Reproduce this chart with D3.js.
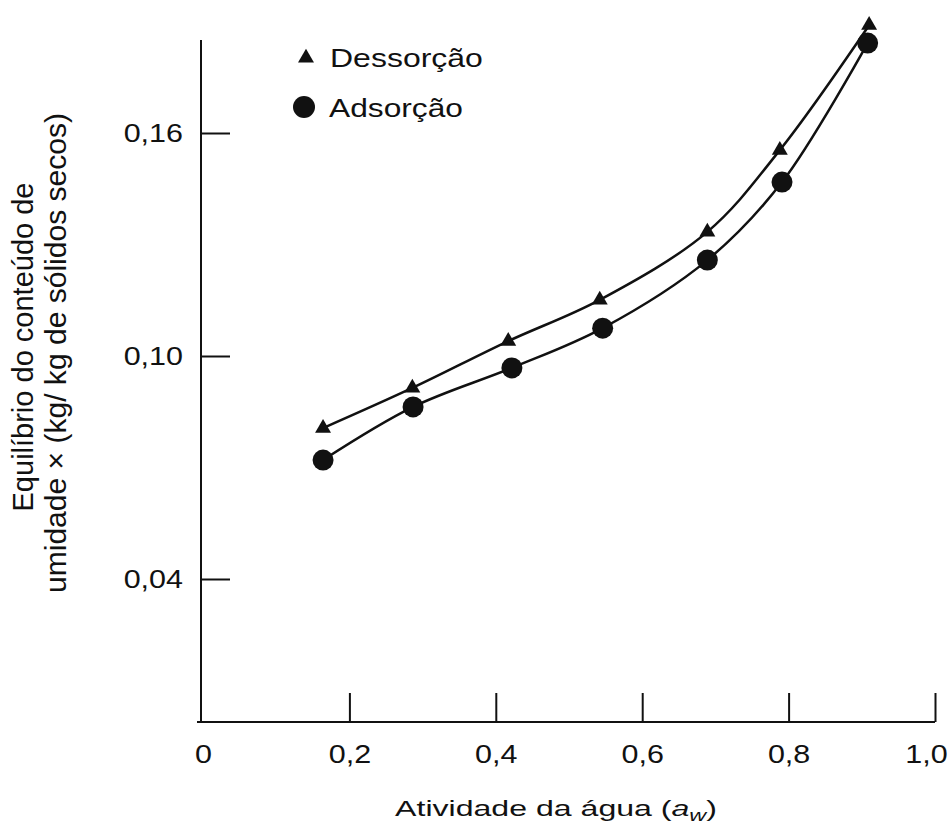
<!DOCTYPE html>
<html>
<head>
<meta charset="utf-8">
<script src="https://cdn.jsdelivr.net/npm/d3@7"></script>
<style>
  body { margin: 0; background: #fff; }
  svg text { font-family: "Liberation Sans", Arial, Helvetica, sans-serif; fill: #111; }
</style>
</head>
<body>
<svg id="chart" width="951" height="826"></svg>
<script>
// water activity (x) and equilibrium moisture content (y)
const awDes = [0.164, 0.286, 0.417, 0.542, 0.689, 0.788, 0.910];
const xDes  = [0.0806, 0.0914, 0.1040, 0.1151, 0.1334, 0.1554, 0.1890];
const awAds = [0.164, 0.287, 0.422, 0.546, 0.689, 0.791, 0.908];
const xAds  = [0.0720, 0.0863, 0.0968, 0.1075, 0.1258, 0.1468, 0.1842];

const xTicks = [0, 0.2, 0.4, 0.6, 0.8, 1.0];
const yTicks = [0.04, 0.10, 0.16];
const seriesNames = ["Dessorção", "Adsorção"];

const svg = d3.select("#chart");

const locale = d3.formatLocale({decimal: ",", thousands: ".", grouping: [3], currency: ["", ""]});
const fy = locale.format(".2f");
const fmtX = d => d === 0 ? "0" : locale.format(".1f")(d);

const x = d3.scaleLinear().domain([0, 1]).range([203, 935]);
const y = d3.scaleLinear().domain([0.04, 0.16]).range([579, 133]);

const axisY = 722, axisTop = 40;
const wide = 1.22; // lettering in the scan is wider than Arial

// scale a text horizontally so it spans `w` pixels
function fitWidth(sel, w) {
  const len = sel.node().getComputedTextLength();
  return w / len;
}

// axes lines
svg.append("line")
  .attr("x1", 201).attr("x2", 201).attr("y1", axisTop).attr("y2", axisY)
  .attr("stroke", "#111").attr("stroke-width", 2);
svg.append("line")
  .attr("x1", 197).attr("x2", x(1)).attr("y1", axisY).attr("y2", axisY)
  .attr("stroke", "#111").attr("stroke-width", 2);

const gx = svg.append("g")
  .attr("transform", `translate(0,${axisY})`)
  .call(d3.axisBottom(x).tickValues(xTicks).tickFormat(fmtX)
    .tickSizeInner(-29).tickSizeOuter(0).tickPadding(23));
gx.select(".domain").remove();
gx.selectAll(".tick line").attr("stroke", "#111").attr("stroke-width", 2)
  .filter(d => d === 0).remove();
gx.selectAll(".tick text").attr("font-size", 25).attr("font-family", null)
  .attr("fill", "#111").attr("transform", `scale(${wide},1)`)
  .attr("dx", d => d === 1 ? -9 / wide : 0);

const gy = svg.append("g")
  .attr("transform", "translate(201,0)")
  .call(d3.axisLeft(y).tickValues(yTicks).tickFormat(fy)
    .tickSizeInner(-29).tickSizeOuter(0).tickPadding(18 / wide));
gy.select(".domain").remove();
gy.selectAll(".tick line").attr("stroke", "#111").attr("stroke-width", 2);
gy.selectAll(".tick text").attr("font-size", 25).attr("font-family", null)
  .attr("fill", "#111").attr("transform", `scale(${wide},1)`);

// axis titles
const xt = svg.append("text")
  .attr("text-anchor", "middle").attr("font-size", 22);
xt.append("tspan").text("Atividade da água (");
xt.append("tspan").attr("font-style", "italic").text("a");
xt.append("tspan").attr("font-style", "italic").attr("font-size", 16).attr("dy", 5).text("w");
xt.append("tspan").attr("dy", -5).text(")");
xt.attr("transform", `translate(556,816) scale(${fitWidth(xt, 322)},1)`);

svg.append("text")
  .attr("transform", "translate(33,347) rotate(-90)")
  .attr("text-anchor", "middle").attr("font-size", 29)
  .attr("textLength", 329).attr("lengthAdjust", "spacingAndGlyphs")
  .text("Equilíbrio do conteúdo de");
svg.append("text")
  .attr("transform", "translate(66,353) rotate(-90)")
  .attr("text-anchor", "middle").attr("font-size", 29)
  .attr("textLength", 480).attr("lengthAdjust", "spacingAndGlyphs")
  .text("umidade × (kg/ kg de sólidos secos)");

// curves
const line = d3.line().curve(d3.curveCatmullRom.alpha(0.5));
const desPts = awDes.map((a, i) => [x(a), y(xDes[i])]);
const adsPts = awAds.map((a, i) => [x(a), y(xAds[i])]);

svg.append("path").attr("d", line(desPts))
  .attr("fill", "none").attr("stroke", "#111").attr("stroke-width", 2.5);
svg.append("path").attr("d", line(adsPts))
  .attr("fill", "none").attr("stroke", "#111").attr("stroke-width", 2.5);

const tri = d3.symbol().type(d3.symbolTriangle).size(110);
svg.append("g").selectAll("path")
  .data(desPts)
  .enter()
  .append("path")
  .attr("d", tri)
  .attr("transform", d => `translate(${d[0]},${d[1]})`)
  .attr("fill", "#111");

svg.append("g").selectAll("circle")
  .data(adsPts)
  .enter()
  .append("circle")
  .attr("cx", d => d[0]).attr("cy", d => d[1])
  .attr("r", 10.5)
  .attr("fill", "#111");

// legend
const legend = svg.append("g");
legend.append("path").attr("d", tri).attr("transform", "translate(306,58)").attr("fill", "#111");
const l1 = legend.append("text").attr("font-size", 25).text(seriesNames[0]);
l1.attr("transform", `translate(330,67) scale(${fitWidth(l1, 153)},1)`);
legend.append("circle").attr("cx", 304).attr("cy", 107).attr("r", 11).attr("fill", "#111");
const l2 = legend.append("text").attr("font-size", 25).text(seriesNames[1]);
l2.attr("transform", `translate(329,117) scale(${fitWidth(l2, 134)},1)`);
</script>
</body>
</html>
